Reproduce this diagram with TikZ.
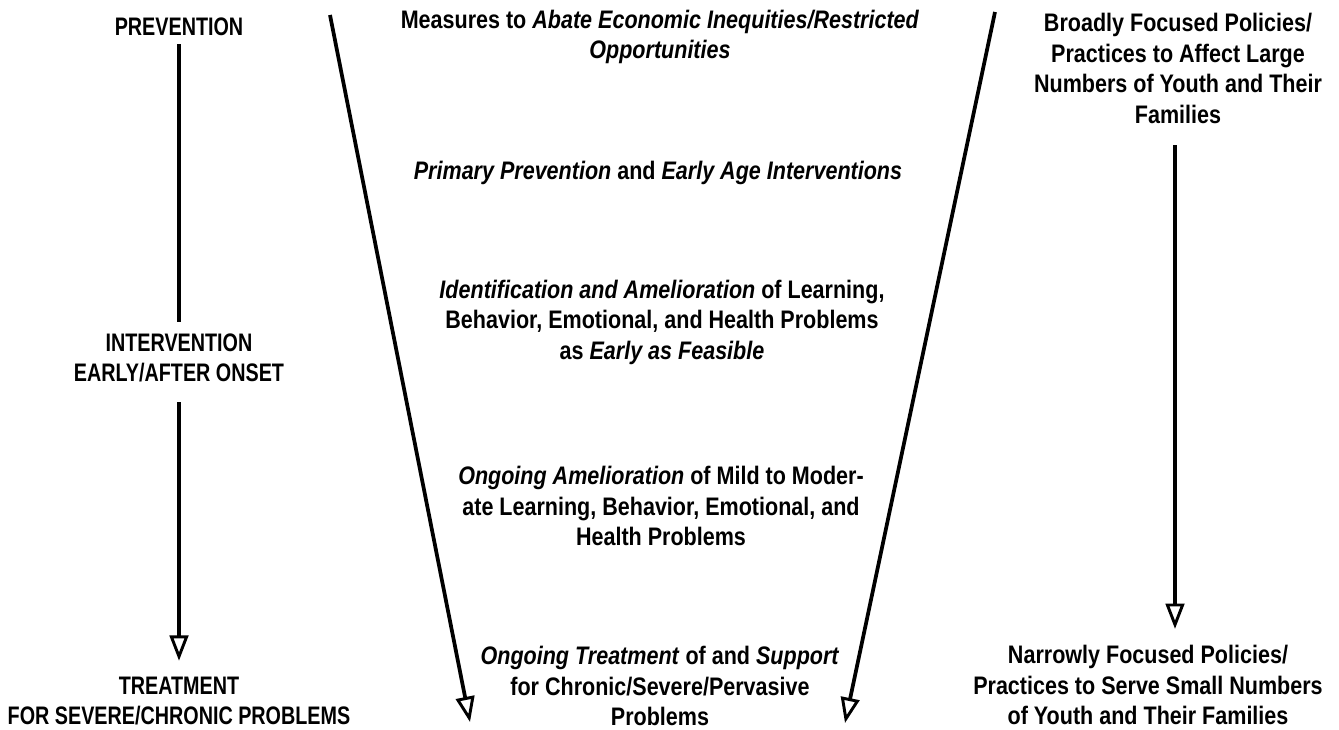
\documentclass[tikz,border=0pt]{standalone}
\usepackage{fontspec}
\usetikzlibrary{arrows.meta}
\newfontfamily\diagfont{Liberation Sans}[FakeStretch=0.85, UprightFont=*-Bold, ItalicFont=*-Bold Italic]
\newfontfamily\capfont{Liberation Sans}[FakeStretch=0.78, UprightFont=*-Bold]
\begin{document}
\begin{tikzpicture}
	[
		x=0.75pt, y=-0.75pt,
		every node/.style = {
			align=center, inner sep=0pt,
			font=\diagfont\fontsize{19}{22.9}\selectfont
		},
		tierlabel/.style = {font=\capfont\fontsize{19}{22.6}\selectfont},
		conn/.style = {line width=2.8pt},
		arr/.style = {conn, -{Triangle[open, length=19pt, width=14pt, line width=2.2pt]}}
	]
	\useasboundingbox (0,0) rectangle (1339,730);
	\node[tierlabel] (prev) at (179,27) {PREVENTION};
	\node[tierlabel] (interv) at (179,358) {INTERVENTION\\EARLY/AFTER ONSET};
	\node[tierlabel] (treat) at (179,701) {TREATMENT\\FOR SEVERE/CHRONIC PROBLEMS};
	\node (measures) at (660,37) {Measures to \textit{Abate Economic Inequities/Restricted}\\\textit{Opportunities}};
	\node (primary) at (658,173) {\textit{Primary Prevention} and \textit{Early Age Interventions}};
	\node (ident) at (662,322) {\textit{Identification and Amelioration} of Learning,\\Behavior, Emotional, and Health Problems\\as \textit{Early as Feasible}};
	\node (ongoing) at (661,506) {\textit{Ongoing Amelioration} of Mild to Moder-\\ate Learning, Behavior, Emotional, and\\Health Problems};
	\node (support) at (660,686) {\textit{Ongoing Treatment} of and \textit{Support}\\for Chronic/Severe/Pervasive\\Problems};
	\node (broad) at (1178,68.5) {Broadly Focused Policies/\\Practices to Affect Large\\Numbers of Youth and Their\\Families};
	\node (narrow) at (1148,685) {Narrowly Focused Policies/\\Practices to Serve Small Numbers\\of Youth and Their Families};
	\coordinate (lefttop) at (330,15);
	\coordinate (lefttip) at (470,722);
	\coordinate (righttop) at (995,12);
	\coordinate (righttip) at (845,723);
	\draw[conn, shorten <=6pt, shorten >=9pt] (prev) -- (interv);
	\draw[arr, shorten <=15pt, shorten >=12pt] (interv) -- (treat);
	\draw[arr] (lefttop) -- (lefttip);
	\draw[arr] (righttop) -- (righttip);
	\draw[arr, shorten <=16pt, shorten >=12pt] ([xshift=-2.25pt]broad.south) -- ([xshift=-2.25pt]broad.south |- narrow.north);
\end{tikzpicture}
\end{document}
